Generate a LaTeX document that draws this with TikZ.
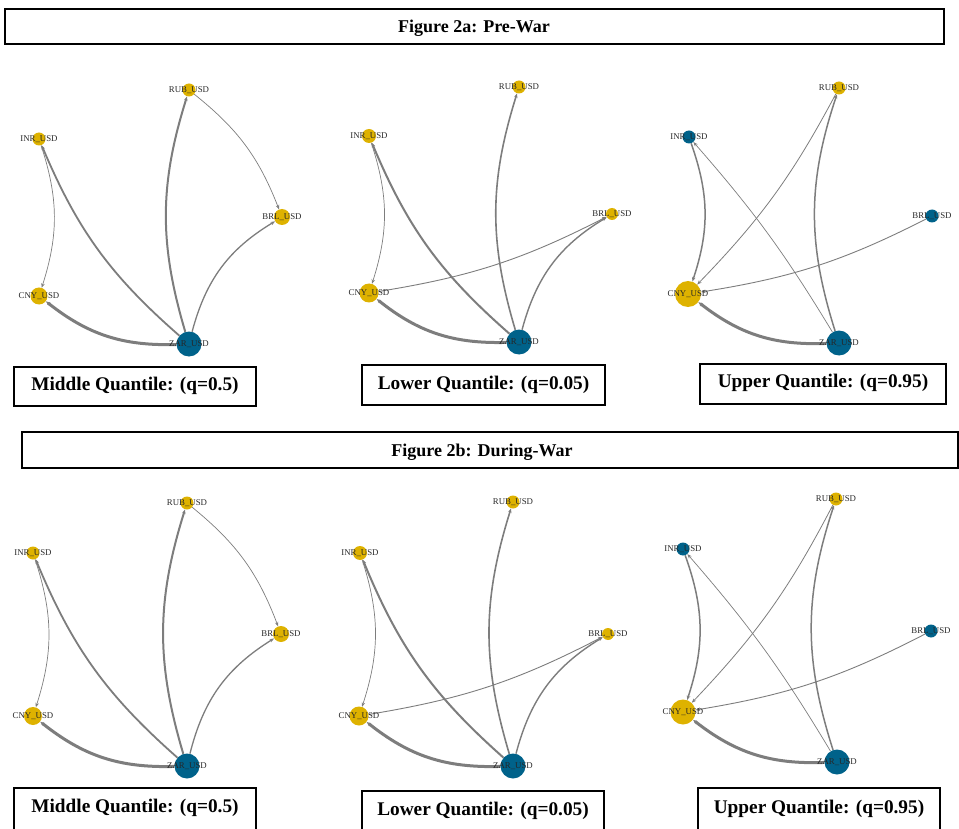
\documentclass[tikz,border=0pt]{standalone}
\usepackage{fontspec}
\setmainfont{Liberation Serif}
\usetikzlibrary{arrows.meta}
\definecolor{ygold}{RGB}{222,178,0}
\definecolor{bteal}{RGB}{0,98,138}
\definecolor{egray}{RGB}{125,125,125}
\pgfdeclarelayer{bg}
\pgfsetlayers{bg,main}
\tikzset{
  nd/.style={circle, inner sep=0pt, draw=none, minimum size=#1},
  yn/.style={nd=#1, fill=ygold},
  bn/.style={nd=#1, fill=bteal},
  lab/.style={font=\fontsize{8.8}{9}\selectfont, text=black!85, inner sep=0pt},
  ed/.style={draw=egray, line width=#1, -{Stealth[length=4.5pt,width=3.5pt]}},
  hbox/.style={draw=black, line width=1.8pt, inner sep=0pt},
  htxt/.style={font=\fontsize{18}{20}\selectfont\bfseries, inner sep=0pt},
  qtxt/.style={font=\fontsize{19.3}{22}\selectfont\bfseries, inner sep=0pt}
}
\newcommand{\edgesMid}[1]{%
  \draw[ed=2.0] (#1zar) to[bend left=17] (#1rub);
  \draw[ed=1.8] (#1zar) to[bend left=13] (#1inr);
  \draw[ed=0.7] (#1rub) to[bend left=15] (#1brl);
  \draw[ed=1.3] (#1zar) to[bend left=22] (#1brl);
  \draw[ed=0.7] (#1inr) to[bend left=18] (#1cny);
  \draw[ed=3.0] (#1zar) to[bend left=20] (#1cny);}
\newcommand{\edgesLow}[1]{%
  \draw[ed=1.6] (#1zar) to[bend left=17] (#1rub);
  \draw[ed=2.0] (#1zar) to[bend left=13] (#1inr);
  \draw[ed=0.7] (#1inr) to[bend left=18] (#1cny);
  \draw[ed=1.4] (#1zar) to[bend left=22] (#1brl);
  \draw[ed=0.9] (#1cny) to[bend right=9] (#1brl);
  \draw[ed=3.0] (#1zar) to[bend left=20] (#1cny);}
\newcommand{\edgesUp}[1]{%
  \draw[ed=1.5] (#1zar) to[bend left=18] (#1rub);
  \draw[ed=0.8] (#1rub) to[bend left=8] (#1cny);
  \draw[ed=0.7] (#1zar) to[bend right=5] (#1inr);
  \draw[ed=1.5] (#1inr) to[bend left=19] (#1cny);
  \draw[ed=0.9] (#1brl) to[bend left=9] (#1cny);
  \draw[ed=3.0] (#1zar) to[bend left=20] (#1cny);}
\begin{document}
\begin{tikzpicture}[x=1pt,y=-1pt]
\useasboundingbox (0,0) rectangle (959,829);
% headers
\node[hbox, minimum width=939pt, minimum height=35pt] (h1) at (474.5,26.5) {};
\node[htxt] (h1t) at (474,28) {Figure 2a: Pre-War};
\node[hbox, minimum width=936pt, minimum height=36pt] (h2) at (490,450) {};
\node[htxt] (h2t) at (482,452) {Figure 2b: During-War};
% quantile boxes, top row
\node[hbox, minimum width=242pt, minimum height=39pt] (q1) at (135,386.5) {};
\node[qtxt] (q1t) at (135,386) {Middle Quantile: (q=0.5)};
\node[hbox, minimum width=243pt, minimum height=40pt] (q2) at (483.5,385) {};
\node[qtxt] (q2t) at (483.5,385) {Lower Quantile: (q=0.05)};
\node[hbox, minimum width=246pt, minimum height=40pt] (q3) at (823,384) {};
\node[qtxt] (q3t) at (823,383) {Upper Quantile: (q=0.95)};
% quantile boxes, bottom row
\node[hbox, minimum width=242pt, minimum height=48pt] (q4) at (135,812) {};
\node[qtxt] (q4t) at (135,808) {Middle Quantile: (q=0.5)};
\node[hbox, minimum width=242pt, minimum height=46pt] (q5) at (483,814) {};
\node[qtxt] (q5t) at (483,811) {Lower Quantile: (q=0.05)};
\node[hbox, minimum width=242pt, minimum height=48pt] (q6) at (819,812) {};
\node[qtxt] (q6t) at (819,809) {Upper Quantile: (q=0.95)};
% panel A
\node[yn=13pt, label={[lab]center:RUB\_USD}] (arub) at (189,90) {};
\node[yn=13pt, label={[lab]center:INR\_USD}] (ainr) at (39,139) {};
\node[yn=16pt, label={[lab]center:BRL\_USD}] (abrl) at (282,217) {};
\node[yn=17pt, label={[lab]center:CNY\_USD}] (acny) at (39,296) {};
\node[bn=25pt, label={[lab]center:ZAR\_USD}] (azar) at (189,344) {};
% panel B
\node[yn=13pt, label={[lab]center:RUB\_USD}] (brub) at (519,87) {};
\node[yn=14pt, label={[lab]center:INR\_USD}] (binr) at (369,136) {};
\node[yn=12pt, label={[lab]center:BRL\_USD}] (bbrl) at (612,214) {};
\node[yn=19pt, label={[lab]center:CNY\_USD}] (bcny) at (369,293) {};
\node[bn=25pt, label={[lab]center:ZAR\_USD}] (bzar) at (519,342) {};
% panel C
\node[yn=13pt, label={[lab]center:RUB\_USD}] (crub) at (839,88) {};
\node[bn=13pt, label={[lab]center:INR\_USD}] (cinr) at (689,137) {};
\node[bn=13pt, label={[lab]center:BRL\_USD}] (cbrl) at (932,216) {};
\node[yn=26pt, label={[lab]center:CNY\_USD}] (ccny) at (688,294) {};
\node[bn=25pt, label={[lab]center:ZAR\_USD}] (czar) at (839,343) {};
% panel D
\node[yn=13pt, label={[lab]center:RUB\_USD}] (drub) at (187,503) {};
\node[yn=13pt, label={[lab]center:INR\_USD}] (dinr) at (33,553) {};
\node[yn=16pt, label={[lab]center:BRL\_USD}] (dbrl) at (281,634) {};
\node[yn=18pt, label={[lab]center:CNY\_USD}] (dcny) at (33,716) {};
\node[bn=25pt, label={[lab]center:ZAR\_USD}] (dzar) at (187,766) {};
% panel E
\node[yn=13pt, label={[lab]center:RUB\_USD}] (erub) at (513,502) {};
\node[yn=14pt, label={[lab]center:INR\_USD}] (einr) at (360,553) {};
\node[yn=12pt, label={[lab]center:BRL\_USD}] (ebrl) at (608,634) {};
\node[yn=19pt, label={[lab]center:CNY\_USD}] (ecny) at (359,716) {};
\node[bn=25pt, label={[lab]center:ZAR\_USD}] (ezar) at (513,766) {};
% panel F
\node[yn=13pt, label={[lab]center:RUB\_USD}] (frub) at (836,499) {};
\node[bn=13pt, label={[lab]center:INR\_USD}] (finr) at (683,549) {};
\node[bn=13pt, label={[lab]center:BRL\_USD}] (fbrl) at (931,631) {};
\node[yn=25pt, label={[lab]center:CNY\_USD}] (fcny) at (683,712) {};
\node[bn=25pt, label={[lab]center:ZAR\_USD}] (fzar) at (837,762) {};
\begin{pgfonlayer}{bg}
\edgesMid{a}
\edgesLow{b}
\edgesUp{c}
\edgesMid{d}
\edgesLow{e}
\edgesUp{f}
\end{pgfonlayer}
\end{tikzpicture}
\end{document}
